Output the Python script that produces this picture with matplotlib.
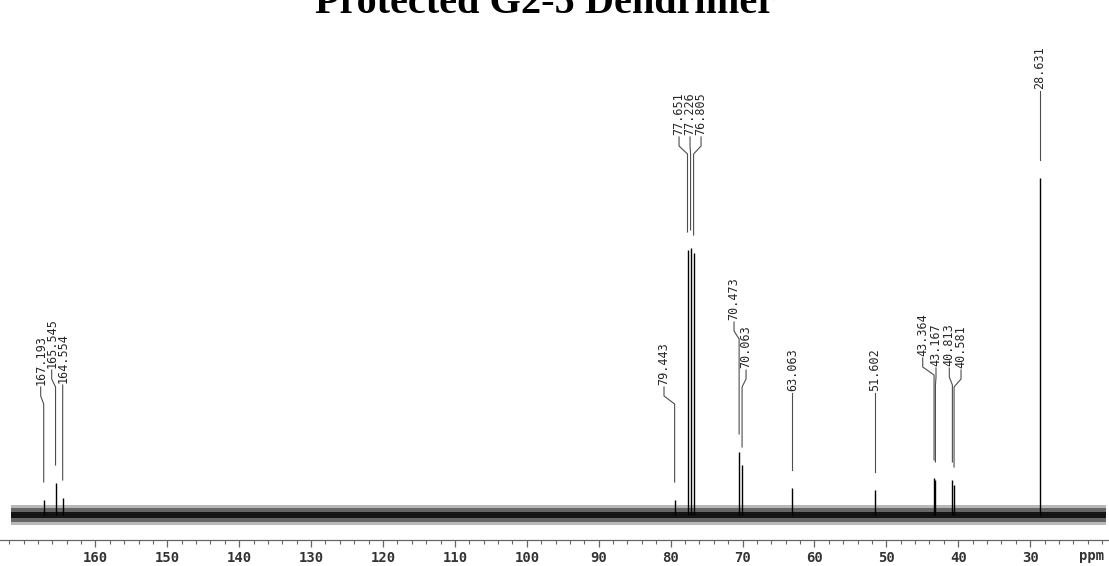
import numpy as np
import matplotlib
matplotlib.use("Agg")
from matplotlib import pyplot as plt
from matplotlib.ticker import MultipleLocator

# peak list (ppm) and peak heights above the baseline (arbitrary units)
peak_ppm = [167.193, 165.545, 164.554, 79.443, 77.651, 77.226, 76.805,
            70.473, 70.063, 63.063, 51.602, 43.364, 43.167, 40.813, 40.581, 28.631]
peak_height = [15, 32, 17, 15, 265, 267, 262,
               63, 50, 27, 25, 37, 35, 35, 30, 337]
peak_labels = ["167.193", "165.545", "164.554", "79.443", "77.651", "77.226", "76.805",
               "70.473", "70.063", "63.063", "51.602", "43.364", "43.167", "40.813", "40.581", "28.631"]

# where the labels sit (ppm of label, height of label foot)
label_ppm = [167.61, 166.08, 164.55, 80.92, 78.83, 77.30, 75.77,
             71.18, 69.51, 63.063, 51.602, 44.94, 43.09, 41.24, 39.61, 28.631]
label_foot = [128, 145, 130, 128, 378, 378, 378,
              193, 145, 122, 122, 157, 147, 147, 145, 424]

major_ticks = [160, 150, 140, 130, 120, 110, 100, 90, 80, 70, 60, 50, 40, 30]

title = "Protected G2-5 Dendrimer"

W, H = 1109, 566
fig = plt.figure(figsize=(W / 100, H / 100), dpi=100)
ax = fig.add_axes([0, 26 / H, 1, 1 - 26 / H])
ax.set_xlim(173.27, 19.03)
ax.set_ylim(-25, 515)

# baseline noise band (drawn as a shaded strip, not as data)
xs = [171.8, 19.4]
ax.fill_between(xs, [-10, -10], [10, 10], color="0.72", lw=0)
ax.fill_between(xs, [-7, -7], [7, 7], color="0.4", lw=0)
ax.fill_between(xs, [-3, -3], [3, 3], color="0.08", lw=0)

# peaks
ax.vlines(peak_ppm, 0, peak_height, color="black", lw=1.0)

# labels with leader lines
gap = 18
for p, h, lab, lx, lf in zip(peak_ppm, peak_height, peak_labels, label_ppm, label_foot):
    end = h + gap
    xs_l = [lx, lx, p, p]
    ys_l = [lf, lf - 9, lf - 17, end]
    ax.plot(xs_l, ys_l, color="0.3", lw=0.8)
    ax.text(lx, lf + 2, lab, rotation=90, ha="center", va="bottom",
            family="DejaVu Sans Mono", fontsize=8.5, color="0.15")

# axis look
for s in ["top", "left", "right"]:
    ax.spines[s].set_visible(False)
ax.spines["bottom"].set_linewidth(0.9)
ax.spines["bottom"].set_color("0.4")
ax.set_yticks([])
ax.set_xticks(major_ticks)
ax.set_xticklabels([str(t) for t in major_ticks], family="DejaVu Sans Mono",
                   fontsize=10, fontweight="bold", color="0.2")
ax.xaxis.set_minor_locator(MultipleLocator(2))
ax.tick_params(axis="x", which="major", direction="out", length=5, width=0.9,
               color="0.4", pad=3)
ax.tick_params(axis="x", which="minor", direction="out", length=3, width=0.8,
               color="0.4")
ax.patch.set_alpha(0)

fig.text(1092 / W, 1 - 556 / H, "ppm", ha="center", va="center",
         family="DejaVu Sans Mono", fontsize=10, fontweight="bold", color="0.2")

fig.text(545 / W, 1 - 13 / H, title, ha="center", va="baseline",
         family="Liberation Serif", fontweight="bold", fontsize=29)

fig.savefig("out.png", dpi=100)
